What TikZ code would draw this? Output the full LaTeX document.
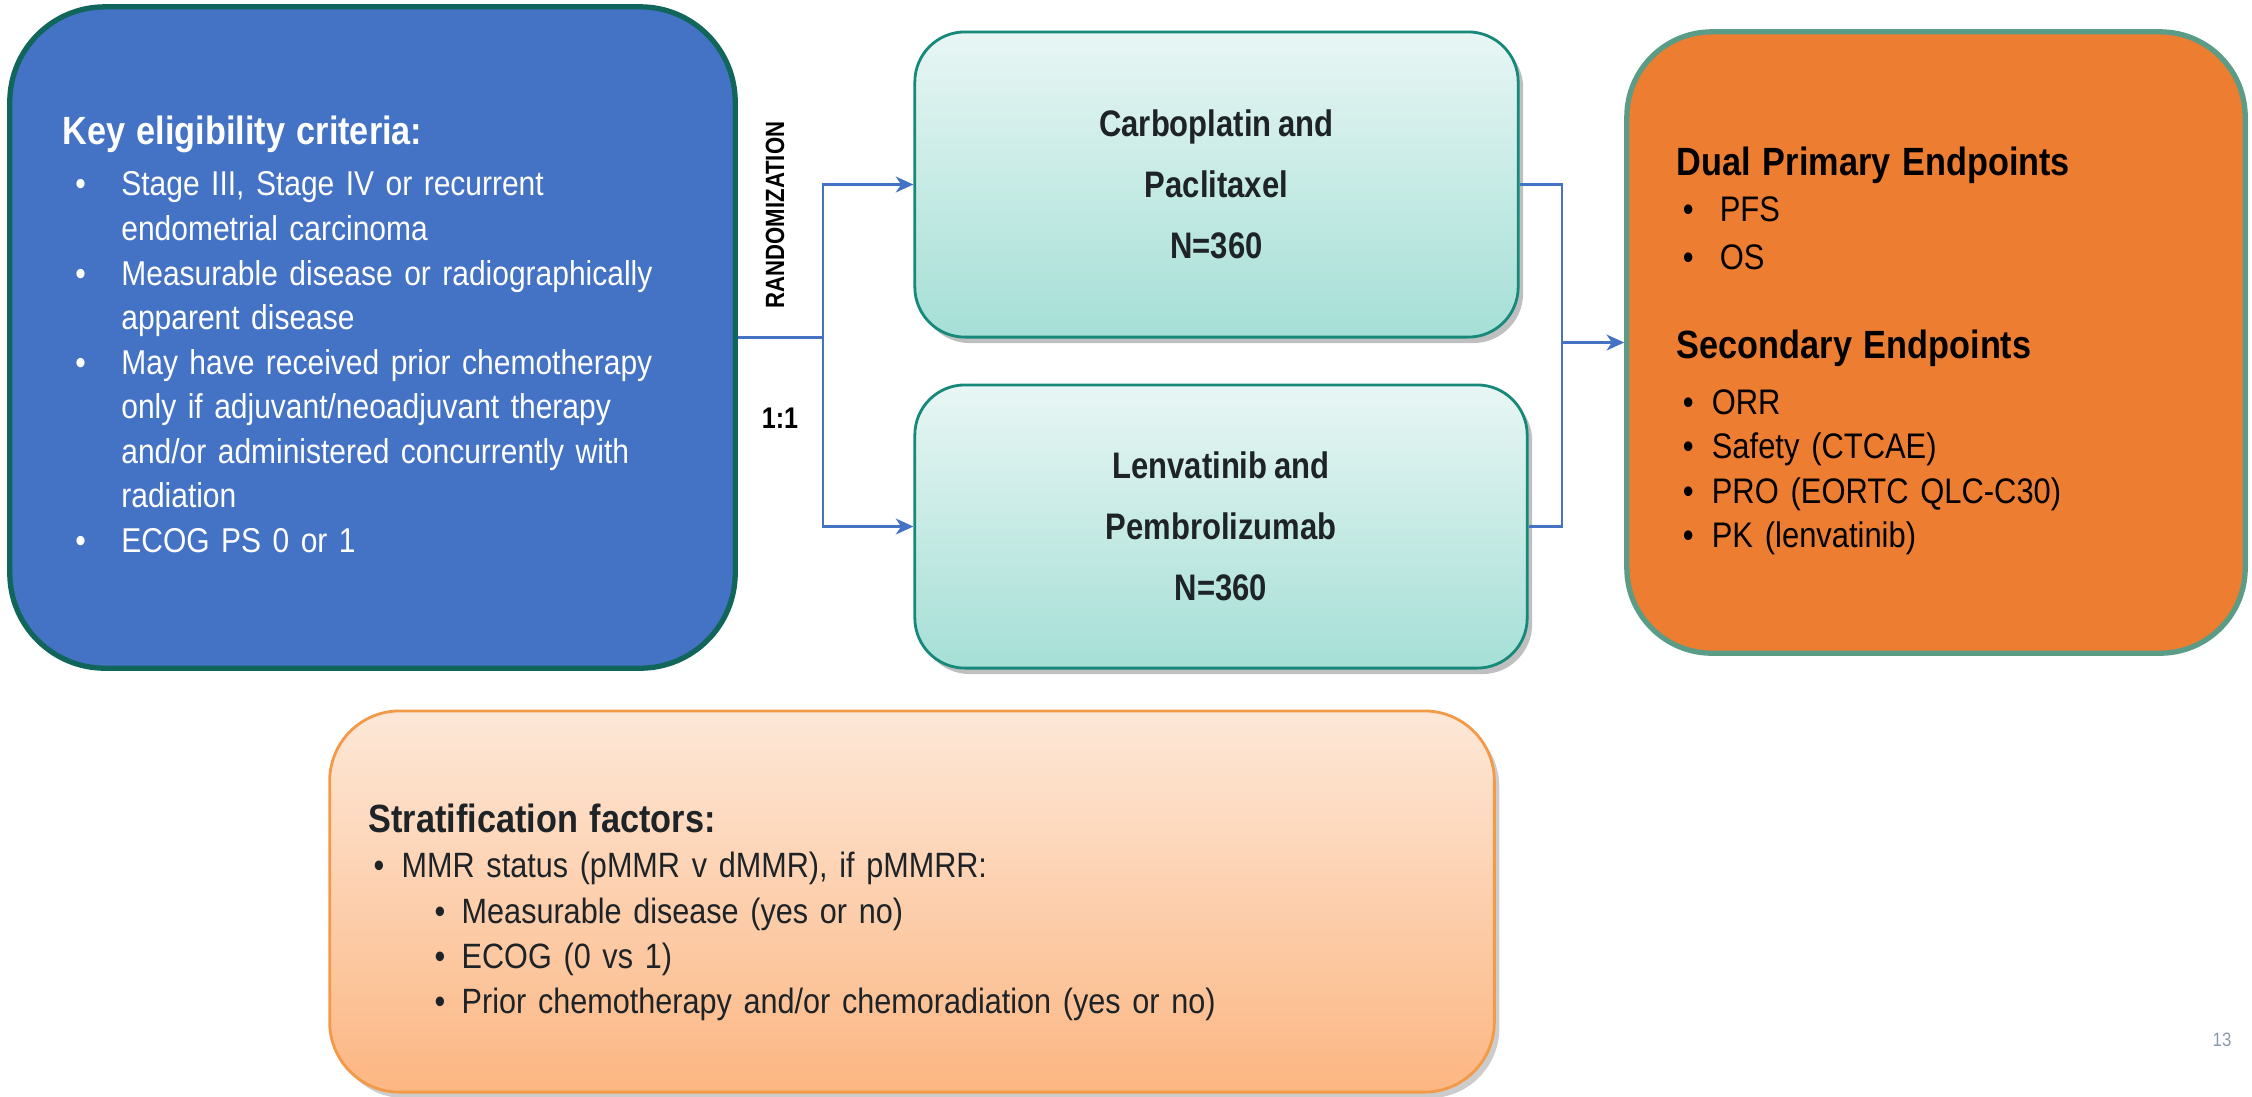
\documentclass[tikz,border=0pt]{standalone}
\usepackage{fontspec}
\setmainfont[FakeStretch=0.87, WordSpace=0.8]{Liberation Sans}
\newfontfamily\armfont[FakeStretch=0.84, WordSpace=0.8]{Liberation Sans}
\usetikzlibrary{arrows.meta, shadows}
\definecolor{eligblue}{HTML}{4472C4}
\definecolor{eligedge}{HTML}{10665A}
\definecolor{armedge}{HTML}{17897B}
\definecolor{armtop}{HTML}{E8F6F4}
\definecolor{armbottom}{HTML}{A5DFD6}
\definecolor{endpfill}{HTML}{ED7D31}
\definecolor{endpedge}{HTML}{5B9C86}
\definecolor{strattop}{HTML}{FDE8D8}
\definecolor{stratbottom}{HTML}{FCB682}
\definecolor{stratedge}{HTML}{F29A48}
\definecolor{darktext}{HTML}{1E2327}
\definecolor{pagegray}{HTML}{8C99AB}

\begin{document}
\begin{tikzpicture}[x=0.01cm, y=-0.01cm, >={Stealth[length=5pt, width=4.5pt, inset=1.5pt]},
  conn/.style={draw=eligblue, line width=0.7pt},
  arm/.style={draw=armedge, line width=0.8pt, rounded corners=0.5cm, top color=armtop, bottom color=armbottom,
    drop shadow={shadow xshift=0.05cm, shadow yshift=-0.06cm, fill=black, opacity=0.25},
    text=darktext, align=center, font=\armfont\fontsize{10.5}{17.3}\selectfont\bfseries}]
\useasboundingbox (0,0) rectangle (2252,1096);

\node[draw=eligedge, line width=1.5pt, fill=eligblue, rounded corners=0.95cm, minimum width=7.25cm, minimum height=6.61cm,
  text width=6.2cm, inner xsep=0.525cm, text=white, align=left, font=\fontsize{9.8}{12.66}\selectfont] (elig) at (372.5,337.5) {%
  {\fontsize{11.2}{12.66}\selectfont\bfseries Key eligibility criteria:}\\[2pt]
  \hspace*{0.13cm}\makebox[0.46cm][l]{\textbullet}Stage III, Stage IV or recurrent\\
  \hspace*{0.59cm}endometrial carcinoma\\
  \hspace*{0.13cm}\makebox[0.46cm][l]{\textbullet}Measurable disease or radiographically\\
  \hspace*{0.59cm}apparent disease\\
  \hspace*{0.13cm}\makebox[0.46cm][l]{\textbullet}May have received prior chemotherapy\\
  \hspace*{0.59cm}only if adjuvant/neoadjuvant therapy\\
  \hspace*{0.59cm}and/or administered concurrently with\\
  \hspace*{0.59cm}radiation\\
  \hspace*{0.13cm}\makebox[0.46cm][l]{\textbullet}ECOG PS 0 or 1\rule[-2pt]{0pt}{2pt}};

\node[arm, minimum width=6.03cm, minimum height=3.05cm] (arm1) at (1216.5,184.5) {Carboplatin and\\Paclitaxel\\N=360};
\node[arm, minimum width=6.12cm, minimum height=2.83cm] (arm2) at (1221,526.5) {Lenvatinib and\\Pembrolizumab\\N=360};

\node[draw=endpedge, line width=1.5pt, fill=endpfill, rounded corners=0.85cm, minimum width=6.18cm, minimum height=6.21cm,
  text width=5.18cm, inner xsep=0.5cm, align=left, font=\fontsize{10.1}{12.66}\selectfont] (endp) at (1936,342.5) {%
  \rule{0pt}{13.1pt}{\fontsize{11.2}{12.66}\selectfont\bfseries Dual Primary Endpoints}\\[0.4pt]
  \hspace*{0.06cm}\makebox[0.37cm][l]{\textbullet}PFS\\[1pt]
  \hspace*{0.06cm}\makebox[0.37cm][l]{\textbullet}OS\\[12.6pt]
  {\fontsize{11.2}{12.66}\selectfont\bfseries Secondary Endpoints}\\[3.2pt]
  \hspace*{0.06cm}\makebox[0.29cm][l]{\textbullet}ORR\\
  \hspace*{0.06cm}\makebox[0.29cm][l]{\textbullet}Safety (CTCAE)\\
  \hspace*{0.06cm}\makebox[0.29cm][l]{\textbullet}PRO (EORTC QLC-C30)\\
  \hspace*{0.06cm}\makebox[0.29cm][l]{\textbullet}PK (lenvatinib)};

\node[draw=stratedge, line width=0.8pt, rounded corners=0.7cm, top color=strattop, bottom color=stratbottom,
  drop shadow={shadow xshift=0.05cm, shadow yshift=-0.06cm, fill=black, opacity=0.2},
  minimum width=11.64cm, minimum height=3.81cm, text width=10.86cm, inner xsep=0.39cm, text=darktext, align=left,
  font=\fontsize{10}{12.9}\selectfont] (strat) at (912,901.5) {%
  \rule{0pt}{14.3pt}{\fontsize{11.2}{12.9}\selectfont\bfseries Stratification factors:}\\
  \hspace*{0.05cm}\makebox[0.28cm][l]{\textbullet}MMR status (pMMR v dMMR), if pMMRR:\\
  \hspace*{0.66cm}\makebox[0.27cm][l]{\textbullet}Measurable disease (yes or no)\\
  \hspace*{0.66cm}\makebox[0.27cm][l]{\textbullet}ECOG (0 vs 1)\\
  \hspace*{0.66cm}\makebox[0.27cm][l]{\textbullet}Prior chemotherapy and/or chemoradiation (yes or no)};

% randomization split and merge
\node[rotate=90, font=\armfont\fontsize{7.5}{9}\selectfont\bfseries] (randlabel) at (775,215) {RANDOMIZATION};
\node[font=\armfont\fontsize{8.5}{9}\selectfont\bfseries] (ratio) at (780,418) {1:1};
\coordinate (rand) at (823,337.5);
\coordinate (join) at (1562,342.5);

\draw[conn] (elig.east) -- (rand);
\draw[conn, ->] (rand) |- (arm1.west);
\draw[conn, ->] (rand) |- (arm2.west);
\draw[conn] (arm1.east) -| (join);
\draw[conn] (arm2.east) -| (join);
\draw[conn, ->] (join) -- (endp.west);

\node[text=pagegray, font=\fontsize{5.5}{6}\selectfont] (pagenum) at (2222,1040) {13};
\end{tikzpicture}
\end{document}
